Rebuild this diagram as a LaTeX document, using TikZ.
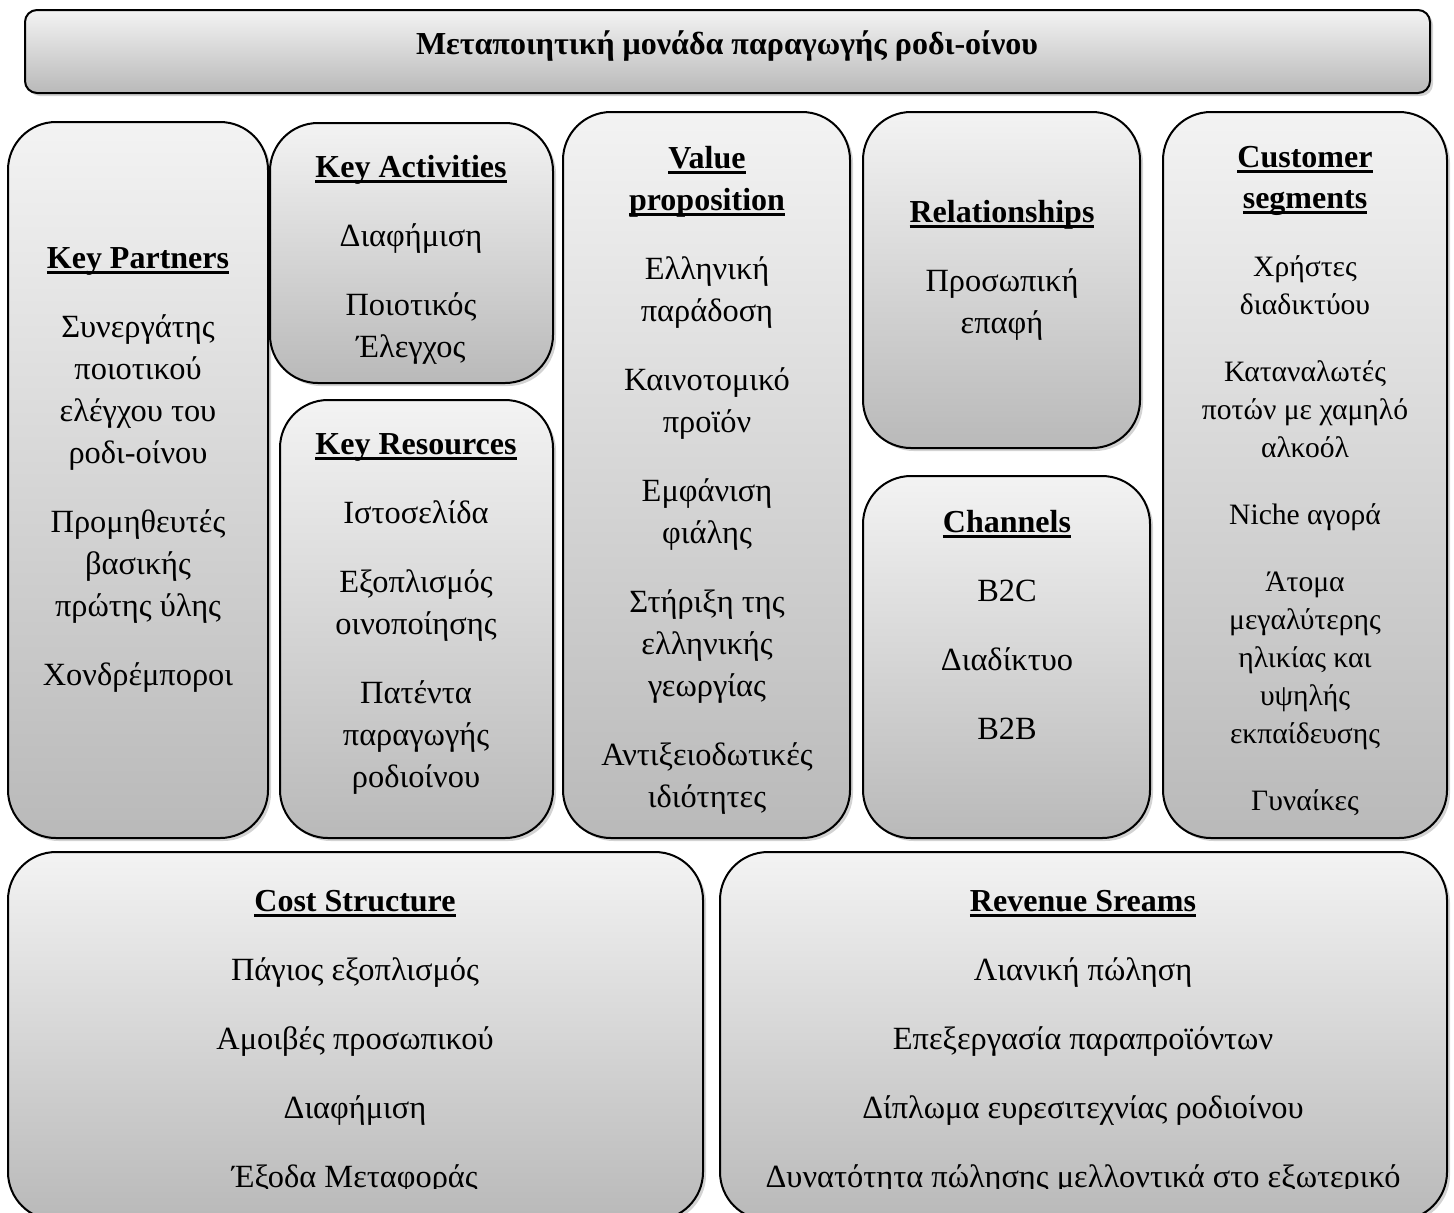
\documentclass[tikz,border=0pt]{standalone}
\usepackage{fontspec}
\setmainfont{Liberation Serif}
\usepackage{tikz}
\usetikzlibrary{fit,shadows}
\definecolor{boxtop}{RGB}{243,243,243}
\definecolor{boxbot}{RGB}{185,185,185}
\newlength{\hdw}
\newcommand{\hd}[1]{{\fontsize{16}{21}\selectfont\bfseries
    \settowidth{\hdw}{#1}\rlap{#1}\rule[-2.9pt]{\hdw}{1.5pt}}}
\newcommand{\gap}{\\[13.5pt]}
\tikzset{
    cell/.style={draw, line width=1pt, rounded corners=24pt, inner sep=0pt,
        top color=boxtop, bottom color=boxbot,
        drop shadow={opacity=0.35, shadow xshift=1.5pt, shadow yshift=-1.5pt}},
    txt/.style={anchor=north, align=center, inner sep=0pt,
        font=\fontsize{16.2}{21}\selectfont},
}

\begin{document}
\begin{tikzpicture}[x=0.5pt, y=-0.5pt]
    \useasboundingbox (0,0) rectangle (1454,1212);

    % title bar
    \node[cell, rounded corners=6pt, fit={(25,10) (1430,93)}] (title) {};
    \node[font=\fontsize{16}{21}\selectfont\bfseries, inner sep=0pt] (titletxt) at (727,46)
        {Μεταποιητική μονάδα παραγωγής ροδι-οίνου};

    % canvas cells
    \node[cell, fit={(8,122) (268,838)}] (kp) {};
    \node[cell, fit={(270,123) (553,383)}] (ka) {};
    \node[cell, fit={(280,400) (553,838)}] (kr) {};
    \node[cell, fit={(563,112) (850,838)}] (vp) {};
    \node[cell, fit={(863,112) (1140,448)}] (rel) {};
    \node[cell, fit={(863,476) (1150,838)}] (ch) {};
    \node[cell, fit={(1163,112) (1447,838)}] (cs) {};
    \node[cell, fit={(8,852) (703,1220)}] (cost) {};
    \node[cell, fit={(720,852) (1447,1220)}] (rev) {};

    % key partners
    \node[txt] (kptxt) at (138,247) {\hd{Key Partners}\gap
        Συνεργάτης\\ ποιοτικού\\ ελέγχου του\\ ροδι-οίνου\gap
        Προμηθευτές\\ βασικής\\ πρώτης ύλης\gap
        Χονδρέμποροι};

    % key activities
    \node[txt] (katxt) at (411,155) {\hd{Key Activities}\gap
        Διαφήμιση\gap
        Ποιοτικός\\ Έλεγχος};

    % key resources
    \node[txt] (krtxt) at (416,433) {\hd{Key Resources}\gap
        Ιστοσελίδα\gap
        Εξοπλισμός\\ οινοποίησης\gap
        Πατέντα\\ παραγωγής\\ ροδιοίνου};

    % value proposition
    \node[txt] (vptxt) at (707,146) {\hd{Value}\\ \hd{proposition}\gap
        Ελληνική\\ παράδοση\gap
        Καινοτομικό\\ προϊόν\gap
        Εμφάνιση\\ φιάλης\gap
        Στήριξη της\\ ελληνικής\\ γεωργίας\gap
        Αντιξειοδωτικές\\ ιδιότητες};

    % relationships
    \node[txt] (reltxt) at (1002,200) {\hd{Relationships}\gap
        Προσωπική\\ επαφή};

    % channels
    \node[txt] (chtxt) at (1007,510) {\hd{Channels}\gap
        B2C\gap
        Διαδίκτυο\gap
        B2B};

    % customer segments
    \node[txt, font=\fontsize{14.8}{19}\selectfont] (cstxt) at (1305,146)
        {\hd{Customer}\\[1.5pt] \hd{segments}\\[15pt]
        Χρήστες\\ διαδικτύου\\[14.5pt]
        Καταναλωτές\\ ποτών με χαμηλό\\ αλκοόλ\\[14.5pt]
        Niche αγορά\\[14.5pt]
        Άτομα\\ μεγαλύτερης\\ ηλικίας και\\ υψηλής\\ εκπαίδευσης\\[14.5pt]
        Γυναίκες};

    % cost structure and revenue streams
    \begin{scope}
        \clip (0,0) rectangle (1454,1188);
        \node[txt] (costtxt) at (355,890) {\hd{Cost Structure}\gap
            Πάγιος εξοπλισμός\gap
            Αμοιβές προσωπικού\gap
            Διαφήμιση\gap
            Έξοδα Μεταφοράς};
        \node[txt] (revtxt) at (1083,890) {\hd{Revenue Sreams}\gap
            Λιανική πώληση\gap
            Επεξεργασία παραπροϊόντων\gap
            Δίπλωμα ευρεσιτεχνίας ροδιοίνου\gap
            Δυνατότητα πώλησης μελλοντικά στο εξωτερικό};
    \end{scope}
\end{tikzpicture}
\end{document}
